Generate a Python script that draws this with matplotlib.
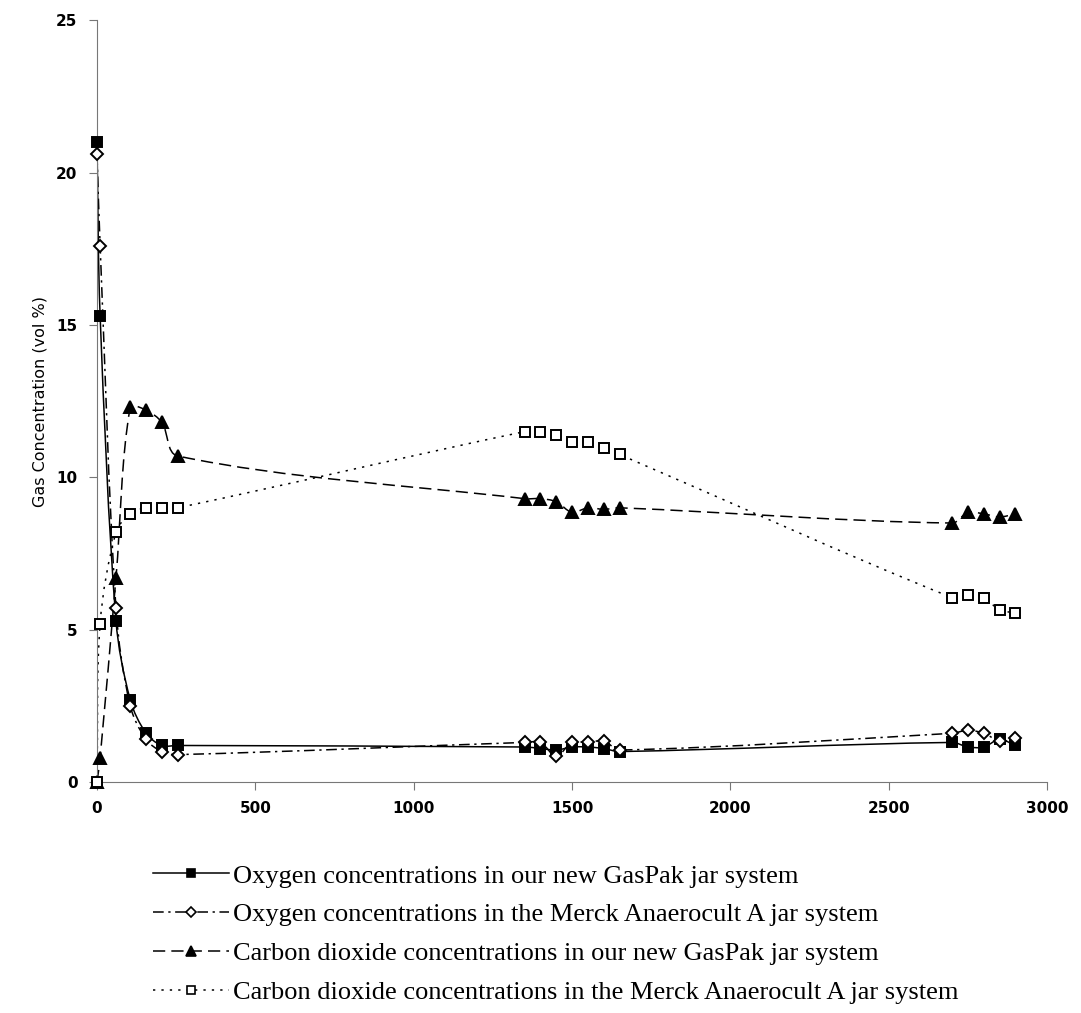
import numpy as np
import matplotlib
matplotlib.use("Agg")
from matplotlib import pyplot as plt
from matplotlib.path import Path
from matplotlib.patches import PathPatch
from matplotlib.lines import Line2D

# sampling times (x axis)
t_start = [0, 10, 60, 105, 155, 205, 255]
t_mid = [1350, 1400, 1450, 1500, 1550, 1600, 1650]
t_end = [2700, 2750, 2800, 2850, 2900]
t_all = t_start + t_mid + t_end

# oxygen, our new GasPak jar
o2_gaspak = [21.0, 15.3, 5.3, 2.7, 1.6, 1.2, 1.2,
             1.15, 1.1, 1.05, 1.15, 1.15, 1.1, 1.0,
             1.3, 1.15, 1.15, 1.4, 1.2]
# oxygen, Merck Anaerocult A jar
o2_merck = [20.6, 17.6, 5.7, 2.5, 1.4, 1.0, 0.9,
            1.3, 1.3, 0.85, 1.3, 1.3, 1.35, 1.05,
            1.6, 1.7, 1.6, 1.35, 1.45]
# carbon dioxide, our new GasPak jar
co2_gaspak = [0.0, 0.8, 6.7, 12.3, 12.2, 11.8, 10.7,
              9.3, 9.3, 9.2, 8.85, 9.0, 8.95, 9.0,
              8.5, 8.85, 8.8, 8.7, 8.8]
# carbon dioxide, Merck Anaerocult A jar
co2_merck = [0.0, 5.2, 8.2, 8.8, 9.0, 9.0, 9.0,
             11.5, 11.5, 11.4, 11.15, 11.15, 10.95, 10.75,
             6.05, 6.15, 6.05, 5.65, 5.55]

labels = ["Oxygen concentrations in our new GasPak jar system",
          "Oxygen concentrations in the Merck Anaerocult A jar system",
          "Carbon dioxide concentrations in our new GasPak jar system",
          "Carbon dioxide concentrations in the Merck Anaerocult A jar system"]

# rough axis size in pixels, used to measure distances for the smoothing
sx = 950 / 3000.0
sy = 762 / 25.0


def smooth_path(x, y):
    # smoothed line: cubic bezier, tangents scaled by segment length
    pts = np.column_stack([x, y]).astype(float)
    scr = pts * [sx, sy]
    n = len(pts)
    d = np.hypot(*np.diff(scr, axis=0).T)
    tang = np.zeros_like(pts)
    for i in range(n):
        a = max(i - 1, 0)
        b = min(i + 1, n - 1)
        span = d[a:b].sum()
        tang[i] = (pts[b] - pts[a]) / span
    verts = [pts[0]]
    codes = [Path.MOVETO]
    for i in range(n - 1):
        verts += [pts[i] + tang[i] * d[i] / 3.0,
                  pts[i + 1] - tang[i + 1] * d[i] / 3.0,
                  pts[i + 1]]
        codes += [Path.CURVE4] * 3
    return Path(verts, codes)


styles = [
    dict(ls='-', marker='s', mfc='black', ms=7.5),
    dict(ls=(0, (7, 3, 1.5, 3)), marker='D', mfc='white', ms=6),
    dict(ls=(0, (8, 4)), marker='^', mfc='black', ms=9),
    dict(ls=(0, (1.5, 4)), marker='s', mfc='white', ms=7),
]
series = [o2_gaspak, o2_merck, co2_gaspak, co2_merck]

fig = plt.figure(figsize=(10.81, 10.13), dpi=100)
ax = fig.add_axes([0.0897, 0.228, 0.879, 0.752])

handles = []
for ys, st in zip(series, styles):
    patch = PathPatch(smooth_path(t_all, ys), facecolor='none', edgecolor='black',
                      lw=1.1, linestyle=st['ls'])
    ax.add_patch(patch)
    ax.plot(t_all, ys, ls='none', marker=st['marker'], ms=st['ms'],
            mfc=st['mfc'], mec='black', mew=1.4, clip_on=False, zorder=3)
    handles.append(Line2D([], [], color='black', lw=1.1, ls=st['ls'],
                          marker=st['marker'], ms=st['ms'] * 0.8,
                          mfc=st['mfc'], mec='black', mew=1.2))

ax.set_xlim(0, 3000)
ax.set_ylim(0, 25)
ax.set_xticks([0, 500, 1000, 1500, 2000, 2500, 3000])
ax.set_yticks([0, 5, 10, 15, 20, 25])
for s in ['top', 'right']:
    ax.spines[s].set_visible(False)
for s in ['left', 'bottom']:
    ax.spines[s].set_color('#777777')
    ax.spines[s].set_linewidth(0.8)
ax.tick_params(direction='out', length=6, width=0.8, color='#777777', pad=8,
               labelsize=11)
for lab in ax.get_xticklabels() + ax.get_yticklabels():
    lab.set_fontweight('bold')
ax.set_ylabel("Gas Concentration (vol %)", fontsize=11.5, labelpad=6)

fig.legend(handles, labels, loc='upper left', bbox_to_anchor=(0.129, 0.16),
           frameon=False, prop={'family': 'Liberation Serif', 'size': 19},
           handlelength=2.9, handletextpad=0.15, labelspacing=0.58,
           borderpad=0.0)

fig.savefig("out.png", dpi=100)
